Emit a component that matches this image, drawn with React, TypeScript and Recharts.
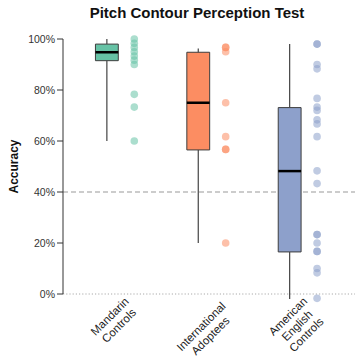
import React from 'react';
import {
  ScatterChart,
  Scatter,
  XAxis,
  YAxis,
  CartesianGrid,
  ReferenceArea,
  ReferenceLine,
} from 'recharts';

const categories = ['Mandarin Controls', 'International Adoptees', 'American English Controls'];

// box summaries, one value per category (accuracy %)
const whiskerLow = [60, 20, -2];
const q1 = [91.5, 56.5, 16.5];
const median = [94.8, 75, 48.2];
const q3 = [98, 94.8, 73.1];
const whiskerHigh = [100, 96.3, 98];

// individual participant scores
const mandarinScores = [100, 98.3, 96.7, 95, 93.3, 91.7, 90, 78.3, 73.3, 60];
const adopteeScores = [96.7, 96.7, 95, 75, 61.7, 56.7, 56.7, 20];
const americanScores = [98, 98, 90, 88.3, 76.7, 73.3, 72, 68.3, 66.7, 61.7, 48.3, 43.3, 23.3, 23.3, 20, 16.7, 16.7, 10, 8.3, -1.7];

const yTicks = [0, 20, 40, 60, 80, 100];

const COLORS = ['#66c2a5', '#fc8d62', '#8da0cb'];
const FONT = '"Liberation Sans", Arial, Helvetica, sans-serif';
const X_DOMAIN: [number, number] = [-0.63, 2.565];
const BOX_SHIFT = -0.15;
const DOT_SHIFT = 0.15;
const BOX_HALF = 0.125;

const scoreGroups = [mandarinScores, adopteeScores, americanScores];

const boxes = categories.map((name, i) => ({
  name,
  x: i + BOX_SHIFT,
  low: whiskerLow[i],
  q1: q1[i],
  med: median[i],
  q3: q3[i],
  high: whiskerHigh[i],
}));

function CategoryTick(props: any) {
  const { x, y, payload } = props;
  const lines = categories[payload.value].split(' ');
  const fs = 11.5;
  const lh = 13;
  const w = Math.max(...lines.map((l) => l.length)) * fs * 0.5;
  const h = lines.length * lh;
  const half = (w / 2 + h / 2) * Math.SQRT1_2;
  const cx = x - 6;
  const cy = y - 19 + half;
  return (
    <text
      transform={`rotate(-45 ${cx} ${cy})`}
      x={cx}
      y={cy - h / 2 + lh * 0.78}
      textAnchor="middle"
      fontSize={fs}
      fill="#222"
      fontFamily={FONT}
    >
      {lines.map((l, i) => (
        <tspan key={i} x={cx} dy={i === 0 ? 0 : lh}>
          {l}
        </tspan>
      ))}
    </text>
  );
}

function YTitle(props: any) {
  const { viewBox } = props;
  const cx = viewBox.x + 14;
  const cy = viewBox.y + viewBox.height / 2;
  return (
    <text
      x={cx}
      y={cy}
      transform={`rotate(-90 ${cx} ${cy})`}
      textAnchor="middle"
      dominantBaseline="central"
      fontSize={12}
      fontWeight="bold"
      fill="#111"
      fontFamily={FONT}
    >
      Accuracy
    </text>
  );
}

export default function App() {
  return (
    <div
      style={{
        position: 'absolute',
        left: 0,
        top: 0,
        width: 355,
        height: 360,
        overflow: 'hidden',
        background: '#fff',
        fontFamily: FONT,
      }}
    >
      <div
        style={{
          position: 'absolute',
          left: 20,
          top: 5,
          width: 354,
          textAlign: 'center',
          fontSize: 15,
          lineHeight: '15px',
          fontWeight: 'bold',
          color: '#111',
        }}
      >
        Pitch Contour Perception Test
      </div>
      <ScatterChart width={355} height={360} margin={{ top: 26.25, right: 0, bottom: 0, left: 0 }}>
        <CartesianGrid vertical={false} horizontalValues={[40]} stroke="#999" strokeDasharray="5 3" />
        <CartesianGrid vertical={false} horizontalValues={[0]} stroke="#aaa" strokeDasharray="1.2 2" />
        <XAxis
          type="number"
          dataKey="x"
          domain={X_DOMAIN}
          ticks={[0, 1, 2]}
          interval={0}
          allowDataOverflow
          axisLine={false}
          tickLine={false}
          height={53.25}
          tick={<CategoryTick />}
        />
        <YAxis
          type="number"
          dataKey="y"
          domain={[-5, 105]}
          ticks={yTicks}
          interval={0}
          allowDataOverflow
          width={63}
          axisLine={false}
          tickLine={{ stroke: '#333' }}
          tickSize={6}
          tickMargin={2}
          tickFormatter={(v: number) => `${v}%`}
          tick={{ fontSize: 10.5, fill: '#333', fontFamily: FONT }}
          label={{ content: <YTitle /> }}
        />
        <ReferenceLine
          segment={[
            { x: X_DOMAIN[0], y: 0 },
            { x: X_DOMAIN[0], y: 100 },
          ]}
          stroke="#333"
          strokeWidth={1}
          ifOverflow="visible"
        />
        {boxes.map((b) => (
          <ReferenceLine
            key={`wh-${b.name}`}
            segment={[
              { x: b.x, y: b.q3 },
              { x: b.x, y: b.high },
            ]}
            stroke="#444"
            strokeWidth={1.2}
            ifOverflow="visible"
          />
        ))}
        {boxes.map((b) => (
          <ReferenceLine
            key={`wl-${b.name}`}
            segment={[
              { x: b.x, y: b.low },
              { x: b.x, y: b.q1 },
            ]}
            stroke="#444"
            strokeWidth={1.2}
            ifOverflow="visible"
          />
        ))}
        {boxes.map((b, i) => (
          <ReferenceArea
            key={`box-${b.name}`}
            x1={b.x - BOX_HALF}
            x2={b.x + BOX_HALF}
            y1={b.q1}
            y2={b.q3}
            fill={COLORS[i]}
            fillOpacity={1}
            stroke="#3d3d3d"
            strokeWidth={1}
            ifOverflow="visible"
          />
        ))}
        {boxes.map((b) => (
          <ReferenceLine
            key={`med-${b.name}`}
            segment={[
              { x: b.x - BOX_HALF, y: b.med },
              { x: b.x + BOX_HALF, y: b.med },
            ]}
            stroke="#000"
            strokeWidth={2.5}
            ifOverflow="visible"
          />
        ))}
        {scoreGroups.map((scores, i) => (
          <Scatter
            key={categories[i]}
            name={categories[i]}
            data={scores.map((v) => ({ x: i + DOT_SHIFT, y: v }))}
            fill={COLORS[i]}
            isAnimationActive={false}
            shape={(p: any) => (
              <circle cx={p.cx} cy={p.cy} r={3.8} fill={COLORS[i]} fillOpacity={0.55} />
            )}
          />
        ))}
      </ScatterChart>
    </div>
  );
}
